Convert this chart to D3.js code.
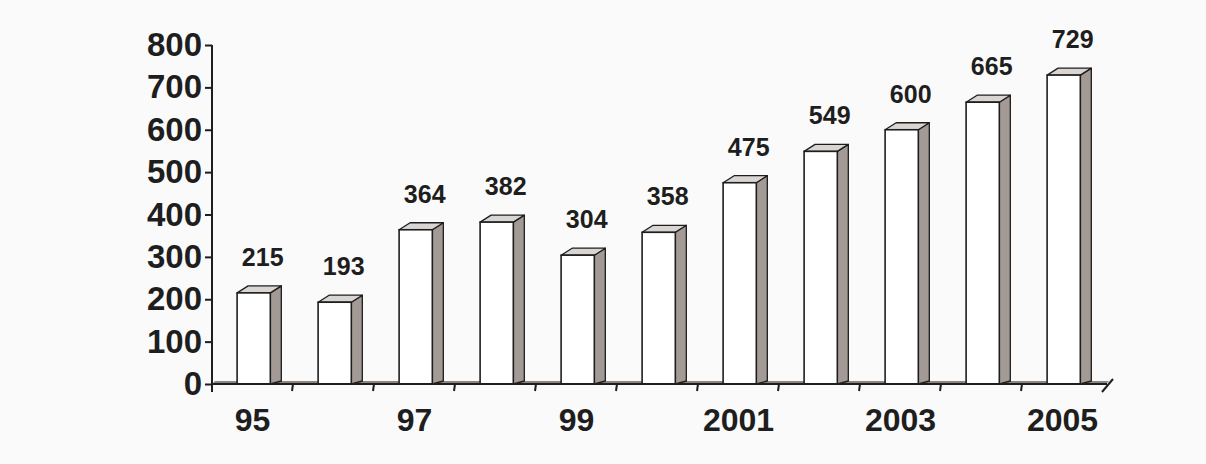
<!DOCTYPE html>
<html>
<head>
<meta charset="utf-8">
<script src="https://cdn.jsdelivr.net/npm/d3@7"></script>
<style>
  body { margin: 0; background: #fafafa; }
  svg { display: block; }
</style>
</head>
<body>
<svg id="chart" width="1206" height="464"></svg>
<script>
// years along the bottom, value per year
var years = ["95", "96", "97", "98", "99", "2000", "2001", "2002", "2003", "2004", "2005"];
var values = [215, 193, 364, 382, 304, 358, 475, 549, 600, 665, 729];
var shownYears = ["95", "97", "99", "2001", "2003", "2005"];
var yTicks = [0, 100, 200, 300, 400, 500, 600, 700, 800];

var svg = d3.select("#chart");
var ink = "#1e1e1e";
var depthX = 11, depthY = 7;

const x = d3.scaleBand().domain(years).range([212, 1103]).padding(0);
const y = d3.scaleLinear().domain([0, 800]).range([384, 45]);
var bw = x.bandwidth();
var barOff = bw * 0.31, barW = bw * 0.41;

// floor strip behind the bars
svg.append("polygon")
  .attr("points", [[212, y(0)], [212 + 3, y(0) - 3], [x.range()[1] + 6, y(0) - 3], [x.range()[1] + 3, y(0)]].join(" "))
  .attr("fill", "#8c8580");

// bars, drawn as little 3d boxes
const bars = svg.selectAll("g.bar").data(values).join("g").attr("class", "bar");

bars.append("polygon") // side face
  .attr("points", (d, i) => {
    var xr = x(years[i]) + barOff + barW;
    return [[xr, y(d)], [xr + depthX, y(d) - depthY], [xr + depthX, y(0) - 3], [xr, y(0)]].join(" ");
  })
  .attr("fill", "#a39a95")
  .attr("stroke", ink)
  .attr("stroke-width", 1.3)
  .attr("stroke-linejoin", "round");

bars.append("polygon") // top face
  .attr("points", (d, i) => {
    var xl = x(years[i]) + barOff;
    return [[xl, y(d)], [xl + depthX, y(d) - depthY], [xl + barW + depthX, y(d) - depthY], [xl + barW, y(d)]].join(" ");
  })
  .attr("fill", "#d9d5d3")
  .attr("stroke", ink)
  .attr("stroke-width", 1.3)
  .attr("stroke-linejoin", "round");

bars.append("rect") // front face
  .attr("x", (d, i) => x(years[i]) + barOff)
  .attr("y", (d) => y(d))
  .attr("width", barW)
  .attr("height", (d) => y(0) - y(d))
  .attr("fill", "#ffffff")
  .attr("stroke", ink)
  .attr("stroke-width", 1.6);

// value labels above each bar
svg.selectAll("text.val").data(values).join("text")
  .attr("class", "val")
  .attr("x", (d, i) => x(years[i]) + barOff + barW / 2 + 9)
  .attr("y", (d) => y(d) - 27)
  .attr("text-anchor", "middle")
  .style("font-family", "'Liberation Sans', Arial, sans-serif")
  .style("font-weight", "bold")
  .style("font-size", "25px")
  .style("fill", ink)
  .text((d) => d);

// y axis
const yAxis = svg.append("g")
  .attr("transform", "translate(212,0)")
  .call(d3.axisLeft(y).tickValues(yTicks).tickSize(7).tickPadding(3));
yAxis.select(".domain").attr("d", "M0," + (y(800)) + "V" + (y(0) + 8)).attr("stroke", ink).attr("stroke-width", 2);
yAxis.selectAll(".tick line").attr("stroke", ink).attr("stroke-width", 2);
yAxis.selectAll(".tick text")
  .style("font-family", "'Liberation Sans', Arial, sans-serif")
  .style("font-weight", "bold")
  .style("font-size", "33px")
  .style("fill", ink);

// x axis baseline + labels at band centres
const xAxis = svg.append("g")
  .attr("transform", "translate(0," + y(0) + ")")
  .call(d3.axisBottom(x).tickSize(0).tickPadding(24)
    .tickFormat((d) => (shownYears.includes(d) ? d : "")));
xAxis.select(".domain").attr("d", "M212,0H" + (x.range()[1] + 4)).attr("stroke", ink).attr("stroke-width", 2);
xAxis.selectAll(".tick text")
  .style("font-family", "'Liberation Sans', Arial, sans-serif")
  .style("font-weight", "bold")
  .style("font-size", "32px")
  .style("fill", ink);

// tick marks sit between the bars
svg.selectAll("line.xtick").data(years.slice(0, -1)).join("line")
  .attr("class", "xtick")
  .attr("x1", (d) => x(d) + bw)
  .attr("x2", (d) => x(d) + bw - 1)
  .attr("y1", y(0))
  .attr("y2", y(0) + 7)
  .attr("stroke", ink)
  .attr("stroke-width", 2);

// slanted end cap on the right
var xe = x.range()[1];
svg.append("line")
  .attr("x1", xe - 1).attr("y1", y(0) + 8)
  .attr("x2", xe + 10).attr("y2", y(0) - 5)
  .attr("stroke", ink)
  .attr("stroke-width", 2);
</script>
</body>
</html>
